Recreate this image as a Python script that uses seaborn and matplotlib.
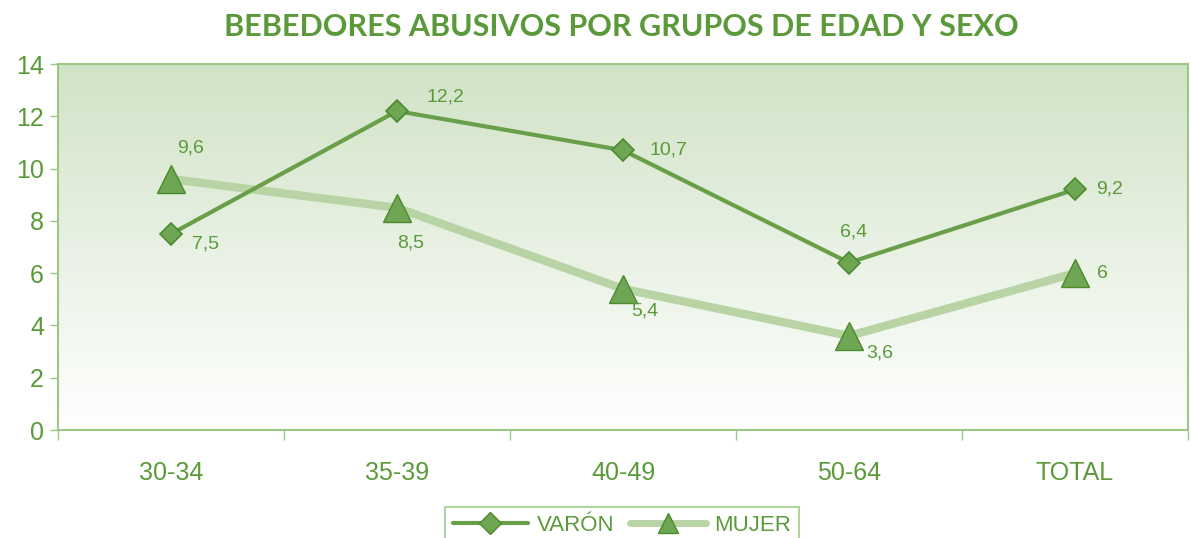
import numpy as np
import pandas as pd
import seaborn as sns
from matplotlib import pyplot as plt
from matplotlib.lines import Line2D

# data
grupos = ['30-34', '35-39', '40-49', '50-64', 'TOTAL']
varon = [7.5, 12.2, 10.7, 6.4, 9.2]
mujer = [9.6, 8.5, 5.4, 3.6, 6.0]
varon_labels = ['7,5', '12,2', '10,7', '6,4', '9,2']
mujer_labels = ['9,6', '8,5', '5,4', '3,6', '6']

# label offsets (points) relative to each marker
varon_off = [(25, -7), (35, 10), (33, 0), (3, 22), (25, 0)]
mujer_off = [(14, 22), (10, -25), (16, -16), (22, -12), (20, 0)]

GREEN = '#5b9a3a'
DARK = '#4c8a2e'
MARK = '#6ea653'
LIGHT = '#b8d4a4'
BORDER = '#9cc785'

sns.set_theme(style='white')
plt.rcParams['font.family'] = ['Liberation Sans', 'DejaVu Sans']

df = pd.DataFrame({'grupo': grupos, 'VARÓN': varon, 'MUJER': mujer})

fig = plt.figure(figsize=(11.91, 5.38), dpi=100)
ax = fig.add_axes([58 / 1191, 1 - 430 / 538, (1188 - 58) / 1191, (430 - 64) / 538])

# gradient background (green at top, white at bottom)
grad = np.linspace(0, 1, 256).reshape(-1, 1)
top = np.array([0.82, 0.89, 0.78])
bot = np.array([1.0, 1.0, 1.0])
img = top[None, None, :] * (1 - grad[..., None]) + bot[None, None, :] * grad[..., None]
ax.imshow(img, extent=[-0.5, 4.5, 0, 14], origin='upper', aspect='auto', zorder=0)

sns.lineplot(data=df, x='grupo', y='MUJER', ax=ax, color=LIGHT, linewidth=6,
             marker='^', markersize=20, markerfacecolor=MARK,
             markeredgecolor=DARK, markeredgewidth=1, zorder=3)
sns.lineplot(data=df, x='grupo', y='VARÓN', ax=ax, color='#6a9f4a', linewidth=3,
             marker='D', markersize=11, markerfacecolor=MARK,
             markeredgecolor=DARK, markeredgewidth=1.2, zorder=4)

for i, g in enumerate(grupos):
    ax.annotate(varon_labels[i], (g, varon[i]), xytext=varon_off[i],
                textcoords='offset points', ha='center', va='center',
                fontsize=14, color=GREEN, zorder=6)
    ax.annotate(mujer_labels[i], (g, mujer[i]), xytext=mujer_off[i],
                textcoords='offset points', ha='center', va='center',
                fontsize=14, color=GREEN, zorder=6)

ax.set_xlim(-0.5, 4.5)
ax.set_ylim(0, 14)
ax.set_yticks(range(0, 15, 2))
ax.set_xlabel('')
ax.set_ylabel('')
ax.tick_params(axis='y', labelsize=18, colors=GREEN, length=6, width=1,
               direction='out', left=True, pad=4)
ax.tick_params(axis='y', color=BORDER)
ax.tick_params(axis='x', labelsize=18, labelcolor=GREEN, length=0, pad=22)
ax.set_xticks(np.arange(-0.5, 4.6, 1), minor=True)
ax.tick_params(axis='x', which='minor', length=7, width=1, color=BORDER,
               direction='out', bottom=True)
for s in ax.spines.values():
    s.set_color(BORDER)
    s.set_linewidth(1.5)

fig.text(621 / 1191, 1 - 27 / 538, 'BEBEDORES ABUSIVOS POR GRUPOS DE EDAD Y SEXO',
         ha='center', va='center', fontsize=22, fontweight='bold',
         color=GREEN, family=['Lato', 'DejaVu Sans'])

handles = [
    Line2D([], [], color='#6a9f4a', linewidth=3, marker='D', markersize=11,
           markerfacecolor=MARK, markeredgecolor=DARK),
    Line2D([], [], color=LIGHT, linewidth=5, marker='^', markersize=14,
           markerfacecolor=MARK, markeredgecolor=DARK),
]
leg = fig.legend(handles, ['VARÓN', 'MUJER'], loc='upper center',
                 bbox_to_anchor=(622 / 1191, 1 - 507 / 538), ncol=2,
                 fontsize=16, frameon=True, fancybox=False, handlelength=3.4,
                 columnspacing=0.7, handletextpad=0.4, borderpad=0.35,
                 labelcolor=GREEN, borderaxespad=0)
leg.get_frame().set_edgecolor(BORDER)
leg.get_frame().set_linewidth(1.5)

fig.savefig('out.png', dpi=100)
